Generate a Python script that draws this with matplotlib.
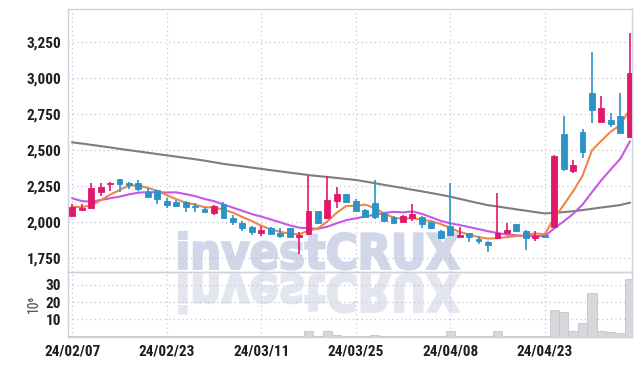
import matplotlib
matplotlib.use('Agg')
import matplotlib.pyplot as plt
import numpy as np
from matplotlib.textpath import TextPath
from matplotlib.font_manager import FontProperties, findfont
from matplotlib.patches import PathPatch
import matplotlib.transforms as mtransforms

# ---------------- data ----------------
tick_pos = [0, 10, 20, 30, 40, 50]
tick_labels = ['24/02/07', '24/02/23', '24/03/11', '24/03/25', '24/04/08', '24/04/23']

opens = [2046, 2085, 2097, 2212, 2264, 2300, 2270, 2271, 2212, 2224,
         2148, 2143, 2143, 2113, 2090, 2067, 2125, 2032, 1993, 1969,
         1928, 1962, 1924, 1958, 1898, 1919, 2078, 2028, 2150, 2197,
         2148, 2085, 2132, 2067, 2039, 2000, 2032, 2039, 2000, 1940,
         1975, 1900, 1924, 1884, 1865, 1893, 1928, 1988, 1940, 1889,
         1912, 1970, 2613, 2358, 2627, 2898, 2699, 2710, 2740, 2594]
highs = [2125, 2125, 2273, 2270, 2280, 2302, 2282, 2292, 2240, 2226,
         2167, 2155, 2148, 2136, 2108, 2118, 2139, 2051, 2009, 1972,
         1974, 1965, 1958, 1962, 1935, 2325, 2082, 2320, 2247, 2200,
         2160, 2090, 2292, 2072, 2044, 2050, 2125, 2044, 2005, 1946,
         2270, 1965, 1927, 1905, 1868, 2201, 1993, 1990, 1945, 1940,
         1915, 2465, 2740, 2433, 2648, 3180, 2877, 2757, 2896, 3312]
lows = [2040, 2083, 2095, 2180, 2215, 2208, 2230, 2220, 2172, 2130,
        2097, 2113, 2072, 2075, 2070, 2050, 2030, 1981, 1942, 1912,
        1907, 1917, 1893, 1892, 1778, 1915, 1990, 2025, 2097, 2140,
        2078, 2030, 2020, 2005, 1990, 1997, 2009, 1958, 1955, 1885,
        1912, 1898, 1865, 1849, 1796, 1890, 1925, 1935, 1808, 1870,
        1895, 1965, 2358, 2340, 2444, 2688, 2695, 2664, 2618, 2590]
closes = [2106, 2100, 2236, 2245, 2275, 2266, 2257, 2230, 2174, 2165,
          2120, 2115, 2108, 2108, 2075, 2115, 2032, 2004, 1958, 1935,
          1949, 1919, 1907, 1896, 1912, 2078, 1993, 2157, 2197, 2143,
          2081, 2037, 2039, 2009, 1993, 2044, 2058, 1988, 1958, 1893,
          1915, 1912, 1900, 1870, 1842, 1928, 1947, 1940, 1893, 1907,
          1898, 2460, 2370, 2398, 2490, 2782, 2794, 2685, 2622, 3035]
ma5 = [2108, 2105, 2118, 2153, 2192, 2224, 2256, 2255, 2240, 2218,
       2189, 2161, 2136, 2123, 2105, 2104, 2088, 2067, 2037, 2009,
       1976, 1953, 1934, 1921, 1917, 1942, 1957, 2007, 2067, 2114,
       2114, 2123, 2099, 2062, 2032, 2024, 2029, 2018, 2008, 1988,
       1962, 1933, 1915, 1897, 1887, 1890, 1897, 1905, 1910, 1923,
       1917, 2030, 2120, 2215, 2323, 2500, 2567, 2630, 2675, 2784]
ma10 = [2167, 2148, 2143, 2155, 2167, 2178, 2194, 2206, 2210, 2208,
        2207, 2208, 2196, 2182, 2162, 2147, 2124, 2102, 2080, 2057,
        2040, 2020, 2000, 1979, 1963, 1959, 1955, 1970, 1994, 2015,
        2028, 2040, 2053, 2065, 2073, 2069, 2076, 2059, 2035, 2010,
        1993, 1981, 1967, 1953, 1938, 1926, 1915, 1910, 1904, 1905,
        1904, 1958, 2006, 2058, 2123, 2209, 2293, 2368, 2441, 2560]
ma_long = [2555, 2547, 2538, 2529, 2520, 2510, 2501, 2492, 2483, 2474,
           2465, 2456, 2447, 2438, 2428, 2417, 2406, 2397, 2389, 2380,
           2371, 2362, 2354, 2345, 2337, 2328, 2321, 2315, 2308, 2301,
           2294, 2283, 2272, 2260, 2249, 2238, 2226, 2215, 2203, 2191,
           2178, 2163, 2148, 2133, 2119, 2110, 2100, 2090, 2081, 2071,
           2062, 2066, 2071, 2077, 2085, 2094, 2103, 2111, 2120, 2136]
volumes = [0.3, 0.3, 0.3, 0.3, 0.3, 0.3, 0.3, 0.3, 0.3, 0.3,
           0.3, 0.3, 0.3, 0.3, 0.3, 0.3, 0.3, 0.3, 0.3, 0.3,
           0.3, 0.3, 0.3, 0.3, 0.3, 3.1, 0.3, 3.1, 1.1, 0.3,
           0.3, 0.3, 1.0, 0.3, 0.3, 0.3, 0.3, 0.3, 0.3, 0.3,
           3.1, 0.3, 0.3, 0.3, 0.3, 3.1, 0.3, 0.3, 0.3, 0.3,
           0.3, 15.6, 14.4, 3.1, 7.8, 25.1, 3.1, 2.5, 1.9, 33.6]
price_ticks = [1750, 2000, 2250, 2500, 2750, 3000, 3250]
vol_ticks = [10, 20, 30]

# ---------------- style ----------------
UP = '#e2186b'
DOWN = '#2a94c8'
GRID = '#c6c6dc'
SPINE = '#cfd0dc'
TXT = '#1e1e1e'


def pick_font(cands):
    for c in cands:
        try:
            findfont(FontProperties(family=c), fallback_to_default=False)
            return c
        except Exception:
            pass
    return 'DejaVu Sans'


tfont = pick_font(['Liberation Sans Narrow', 'Roboto Condensed', 'Liberation Sans'])

W, H = 642, 366
fig = plt.figure(figsize=(W / 100, H / 100), dpi=100)
fig.patch.set_facecolor('white')

L, R = 68.3, 632.3
T, MID, B = 9.3, 272.3, 337.3
ax = fig.add_axes([L / W, 1 - MID / H, (R - L) / W, (MID - T) / H])
axv = fig.add_axes([L / W, 1 - B / H, (R - L) / W, (B - MID) / H], sharex=ax)
for a in (ax, axv):
    a.set_facecolor('none')
    for s in a.spines.values():
        s.set_color(SPINE)
        s.set_linewidth(1.0)
    a.tick_params(length=0, colors=TXT)
    a.grid(True, linestyle=(0, (1, 2.5)), color=GRID, linewidth=0.9)
    a.set_axisbelow(True)

# watermark "investCRUX" with reflection
tp = TextPath((0, 0), 'investCRUX', size=100,
              prop=FontProperties(family='DejaVu Sans', weight='bold'))
ext = tp.get_extents()
x0, x1 = 179, 459
ytop, ybase = 232, 269.5
sx = (x1 - x0) / ext.width / W
sy = (ybase - ytop) / ext.height / H
tr_main = (mtransforms.Affine2D().translate(-ext.x0, -ext.y0).scale(sx, sy)
           .translate(x0 / W, 1 - ybase / H) + fig.transFigure)
fig.patches.append(PathPatch(tp, transform=tr_main, facecolor='#d1d6e9',
                             edgecolor='#d1d6e9', linewidth=1.6, zorder=-5))
tr_ref = (mtransforms.Affine2D().translate(-ext.x0, -ext.y0).scale(sx, -sy * 1.05)
          .translate(x0 / W, 1 - 274 / H) + fig.transFigure)
fig.patches.append(PathPatch(tp, transform=tr_ref, facecolor='#e3e6ef',
                             edgecolor='#e3e6ef', linewidth=1.6, zorder=-5))

x = np.arange(len(closes))
o = np.array(opens)
c = np.array(closes)
cols = [UP if cc >= oo else DOWN for oo, cc in zip(o, c)]

# lines
ax.plot(x, ma_long, color='#7d7d7d', lw=1.5, zorder=2)
ax.plot(x, ma10, color='#c856e6', lw=1.5, zorder=2)
ax.plot(x, ma5, color='#ef8648', lw=1.5, zorder=2)

# candles
ax.vlines(x, lows, highs, colors=cols, linewidth=1.2, zorder=3)
ax.bar(x, np.abs(c - o), bottom=np.minimum(o, c), width=0.62, color=cols,
       edgecolor=cols, linewidth=0.6, zorder=4)

ax.set_ylim(1653, 3479)
ax.set_yticks(price_ticks)
ax.set_yticklabels([f'{v:,}' for v in price_ticks])
ax.set_xlim(-0.42, 59.27)
ax.set_xticks(tick_pos)
ax.tick_params(axis='x', labelbottom=False)

# volume
axv.bar(x, volumes, width=0.97, color='#d8d8dc', edgecolor='#c4c4cc', linewidth=0.6, zorder=3)
axv.set_ylim(-0.3, 37.2)
axv.set_yticks(vol_ticks)
axv.set_xticks(tick_pos)
axv.set_xticklabels(tick_labels)
axv.text(-0.061, 0.52, '10⁶', transform=axv.transAxes, rotation=90,
         ha='center', va='center', fontsize=10, color='#444444',
         family=[tfont, 'DejaVu Sans'])

for lab in ax.get_yticklabels() + axv.get_yticklabels() + axv.get_xticklabels():
    lab.set_family([tfont, 'DejaVu Sans'])
    lab.set_fontsize(11)
    lab.set_fontweight('bold')
    lab.set_color(TXT)
ax.tick_params(axis='y', pad=5)
axv.tick_params(axis='y', pad=5)
axv.tick_params(axis='x', pad=5)

fig.savefig('out.png', dpi=100, facecolor='white')
